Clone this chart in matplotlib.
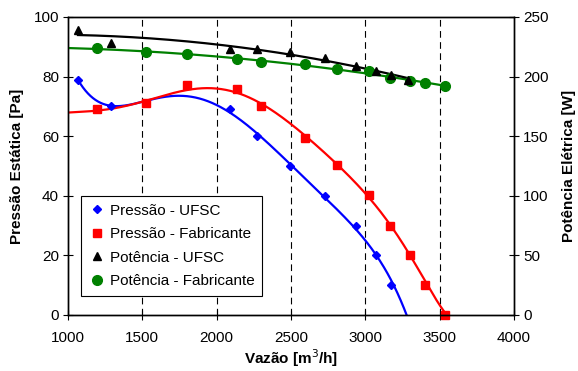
import numpy as np
import matplotlib.pyplot as plt

plt.rcParams['font.family'] = ['Liberation Sans', 'DejaVu Sans']

# Pressão - UFSC (last flow has zero pressure, no marker shown)
x_ufsc = [1067, 1290, 2090, 2270, 2490, 2730, 2935, 3075, 3170]
p_ufsc = [79, 70, 69, 60, 50, 40, 30, 20, 10]
x_ufsc_end = 3285
# Pressão - Fabricante
x_fab = [1195, 1525, 1800, 2135, 2300, 2597, 2807, 3027, 3166, 3300, 3401, 3536]
p_fab = [69, 71, 77.2, 76, 70, 59.5, 50.3, 40.3, 30, 20, 10, 0]
# catalogue curve of the manufacturer
x_fab_curve = [1000, 1100, 1200, 1300, 1400, 1500, 1600, 1700, 1800, 1900, 2000, 2100, 2200, 2300,
	2400, 2500, 2600, 2700, 2800, 2900, 3000, 3100, 3200, 3300, 3400, 3500, 3536]
p_fab_curve = [68.0, 68.1, 68.5, 69.4, 70.4, 71.7, 73.0, 74.2, 75.1, 76.0, 76.2, 75.5, 73.8, 70.8,
	67.0, 64.0, 60.3, 55.6, 51.0, 46.0, 41.0, 35.2, 27.4, 20.1, 11.2, 4.5, 0]
# Potência - UFSC
xw_ufsc = [1067, 1290, 2090, 2270, 2490, 2730, 2935, 3070, 3170, 3285]
w_ufsc = [239.5, 228.5, 223, 223, 221, 216, 209, 204.7, 201.4, 197.2]
# Potência - Fabricante
w_fab = [223.7, 220.9, 218.7, 214.5, 212.5, 210.3, 206.1, 204.7, 199.1, 196.3, 194.9, 192.1]

BLUE = '#0000ff'
RED = '#ff0000'
GREEN = '#008000'

fig = plt.figure(figsize=(5.78, 3.71), dpi=100)
ax = fig.add_axes([68/578, 1-315/371, (514-68)/578, (315-17)/371])
ax2 = ax.twinx()

def trend(xs, ys, deg, x0, x1):
	p = np.polynomial.Polynomial.fit(xs, ys, deg)
	xx = np.linspace(x0, x1, 400)
	yy = p(xx)
	m = yy >= 0
	return xx[m], yy[m]

xx, yy = trend(x_ufsc + [x_ufsc_end], p_ufsc + [0], 5, x_ufsc[0], x_ufsc_end + 20)
ax.plot(xx, yy, color=BLUE, lw=1.6)
xx, yy = trend(x_fab_curve, p_fab_curve, 8, x_fab_curve[0], x_fab_curve[-1])
ax.plot(xx, yy, color=RED, lw=1.6)
h1, = ax.plot(x_ufsc, p_ufsc, 'D', color=BLUE, ms=4.5, ls='none', label='Pressão - UFSC')
h2, = ax.plot(x_fab, p_fab, 's', color=RED, ms=6, ls='none', label='Pressão - Fabricante', clip_on=False)

xx, yy = trend(x_fab, w_fab, 2, 1000, x_fab[-1])
ax2.plot(xx, yy, color=GREEN, lw=1.6)
xx, yy = trend(xw_ufsc, w_ufsc, 2, xw_ufsc[0], xw_ufsc[-1])
ax2.plot(xx, yy, color='black', lw=1.6)
h4, = ax2.plot(x_fab, w_fab, 'o', color=GREEN, ms=7, ls='none', label='Potência - Fabricante')
h3, = ax2.plot(xw_ufsc, w_ufsc, '^', color='black', ms=6, ls='none', label='Potência - UFSC')

for xv in [1500, 2000, 2500, 3000, 3500]:
	ax.axvline(xv, color='black', ls=(0, (6, 4)), lw=0.8, zorder=0)

ax.set_xlim(1000, 4000)
ax.set_ylim(0, 100)
ax2.set_ylim(0, 250)
ax.set_xticks(range(1000, 4001, 500))
ax.set_yticks(range(0, 101, 20))
ax2.set_yticks(range(0, 251, 50))
for a in (ax, ax2):
	a.tick_params(direction='inout', length=7, labelsize=11, width=0.8, pad=3)
	for s in a.spines.values():
		s.set_linewidth(1)
ax.tick_params(axis='x', pad=8)

ax.set_xlabel('Vazão [m$^3$/h]', fontsize=11, fontweight='bold', labelpad=2)
ax.set_ylabel('Pressão Estática [Pa]', fontsize=11, fontweight='bold', labelpad=7)
ax2.set_ylabel('Potência Elétrica [W]', fontsize=11, fontweight='bold', labelpad=10)

leg = ax2.legend(handles=[h1, h2, h3, h4], loc='lower left', bbox_to_anchor=(0.0285, 0.065),
	borderaxespad=0, fontsize=11, frameon=True, fancybox=False, edgecolor='black',
	handlelength=1.1, handletextpad=0.3, borderpad=0.5, labelspacing=0.62, framealpha=1)
leg.get_frame().set_linewidth(0.8)

fig.savefig('out.png', dpi=100)
